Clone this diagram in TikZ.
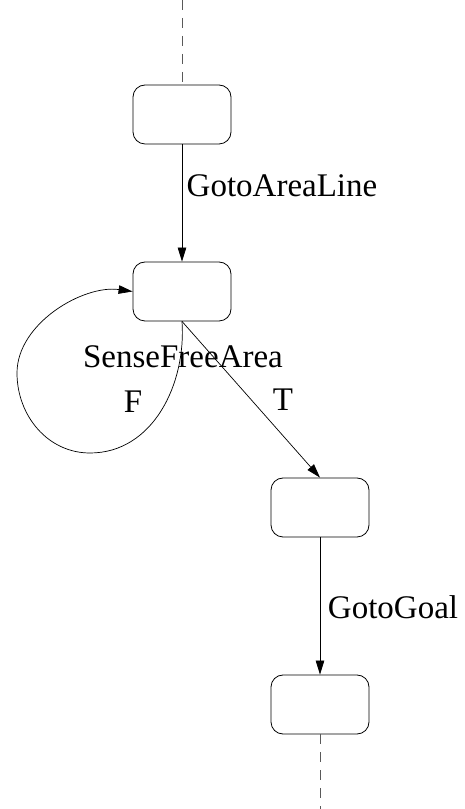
\documentclass[tikz,border=0pt]{standalone}
\usepackage{fontspec}
\setmainfont{Liberation Serif}
\usetikzlibrary{arrows.meta}
\begin{document}
\begin{tikzpicture}[x=1pt,y=1pt,
  state/.style={draw, rounded corners=12pt, minimum width=98pt, minimum height=59pt, inner sep=0pt, line width=0.8pt},
  trans/.style={line width=0.7pt, -{Triangle[length=14pt,width=8.5pt]}},
  open/.style={line width=0.8pt, gray!70!black, dash pattern=on 10pt off 8pt},
  lbl/.style={font=\fontsize{33}{38}\selectfont, inner sep=0pt}]
\useasboundingbox (0,0) rectangle (465,809);
% states
\node[state] (s1) at (182,694.5) {};
\node[state] (s2) at (182,517.5) {};
\node[state] (s3) at (320,301.5) {};
\node[state] (s4) at (320,104.5) {};
% open ends
\coordinate (top) at (182,809);
\coordinate (bot) at (320,0);
\draw[open] (top) -- (s1.north);
\draw[open] (s4.south) -- (bot);
% transitions
\draw[trans] (s1) -- (s2);
\draw[trans] (s2.south) -- (s3.north);
\draw[trans] (s3) -- (s4);
% self loop back to the sensing state
\coordinate (lb) at (90,356);
\coordinate (ll) at (17,436);
\draw[trans] (s2.south) to[out=-86,in=0] (lb) to[out=180,in=-90] (ll) to[out=90,in=172,looseness=0.9] (s2.west);
% labels
\node[lbl] (l1) at (282,623) {GotoAreaLine};
\node[lbl] (l2) at (183,452) {SenseFreeArea};
\node[lbl] (lf) at (133,407) {F};
\node[lbl] (lt) at (283,409) {T};
\node[lbl] (l3) at (393,202) {GotoGoal};
\end{tikzpicture}
\end{document}
